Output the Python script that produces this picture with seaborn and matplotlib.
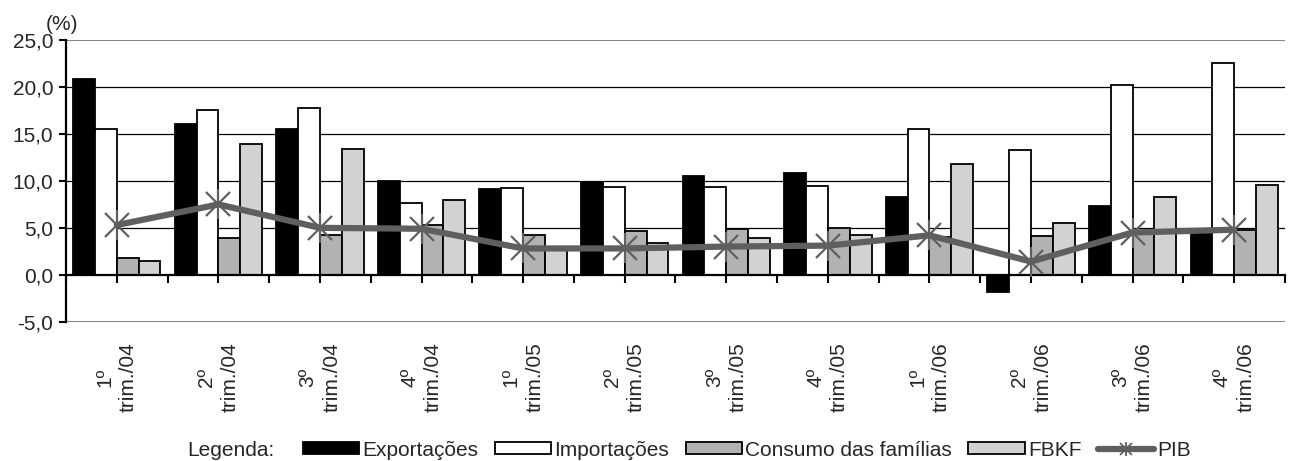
import matplotlib

matplotlib.use("Agg")
import matplotlib.pyplot as plt  # noqa: E402
import numpy as np  # noqa: E402
import pandas as pd  # noqa: E402
import seaborn as sns  # noqa: E402
from matplotlib.legend_handler import HandlerTuple  # noqa: E402
from matplotlib.lines import Line2D  # noqa: E402
from matplotlib.patches import Patch  # noqa: E402
from matplotlib.ticker import FixedLocator  # noqa: E402

# ---------------------------------------------------------------------------
# Data (variação %)
# ---------------------------------------------------------------------------
trimestres = [
    "1º\ntrim./04", "2º\ntrim./04", "3º\ntrim./04", "4º\ntrim./04",
    "1º\ntrim./05", "2º\ntrim./05", "3º\ntrim./05", "4º\ntrim./05",
    "1º\ntrim./06", "2º\ntrim./06", "3º\ntrim./06", "4º\ntrim./06",
]
exportacoes = [20.9, 16.1, 15.6, 10.0, 9.1, 9.9, 10.5, 10.9, 8.3, -1.8, 7.3, 4.9]
importacoes = [15.5, 17.6, 17.8, 7.6, 9.3, 9.35, 9.35, 9.45, 15.55, 13.3, 20.3, 22.6]
consumo = [1.8, 3.9, 4.2, 5.3, 4.2, 4.7, 4.9, 5.0, 4.0, 4.1, 4.4, 4.8]
fbkf = [1.5, 14.0, 13.4, 8.0, 2.8, 3.4, 3.9, 4.2, 11.8, 5.5, 8.3, 9.6]
pib = [5.3, 7.5, 5.0, 4.9, 2.8, 2.8, 3.0, 3.1, 4.2, 1.4, 4.5, 4.8]

series = ["Exportações", "Importações", "Consumo das famílias", "FBKF"]
cores = {
    "Exportações": "#000000",
    "Importações": "#ffffff",
    "Consumo das famílias": "#b2b2b2",
    "FBKF": "#d2d2d2",
}
COR_PIB = "#5f5f5f"

df = pd.DataFrame({
    "trimestre": trimestres,
    "Exportações": exportacoes,
    "Importações": importacoes,
    "Consumo das famílias": consumo,
    "FBKF": fbkf,
}).melt(id_vars="trimestre", var_name="serie", value_name="valor")

sns.set_theme(style="white")
plt.rcParams["font.family"] = ["Liberation Sans", "DejaVu Sans"]
FS = 15

fig = plt.figure(figsize=(12.89, 4.61), dpi=100)
ax = fig.add_axes([66 / 1289, 1 - 321.5 / 461, (1285 - 66) / 1289, (321.5 - 40.5) / 461])

sns.barplot(
    data=df, x="trimestre", y="valor", hue="serie",
    order=trimestres, hue_order=series, palette=cores,
    width=0.86, edgecolor="black", linewidth=1.3,
    legend=False, ax=ax, zorder=2,
)

# PIB line + star markers
x_pos = np.arange(len(trimestres))
sns.lineplot(x=x_pos, y=pib, color=COR_PIB, linewidth=4.5, ax=ax, zorder=4)
ax.plot(x_pos, pib, linestyle="none", marker="x", markersize=17,
        markeredgewidth=1.6, color=COR_PIB, zorder=5)
ax.plot(x_pos, pib, linestyle="none", marker="|", markersize=21,
        markeredgewidth=1.6, color=COR_PIB, zorder=5)

# y axis
ax.set_ylim(-5, 25)
ax.set_xlim(-0.5, len(trimestres) - 0.5)
yt = [-5, 0, 5, 10, 15, 20, 25]
ax.set_yticks(yt)
ax.set_yticklabels([f"{v:.1f}".replace(".", ",") for v in yt], fontsize=FS)
ax.tick_params(axis="y", direction="out", length=5, width=1.5, color="black",
               pad=4, left=True)
ax.grid(axis="y", color="black", linewidth=0.9, zorder=0)
ax.set_axisbelow(True)
for t, v in zip(ax.yaxis.get_major_ticks(), yt):
    if v in (-5, 25):
        t.gridline.set_color("#808080")
        t.gridline.set_linewidth(1.4)
    elif v == 0:
        t.gridline.set_visible(False)

for s in ("top", "right"):
    ax.spines[s].set_visible(False)
ax.spines["left"].set_color("black")
ax.spines["left"].set_linewidth(1.6)
ax.spines["bottom"].set_position(("data", 0))
ax.spines["bottom"].set_color("black")
ax.spines["bottom"].set_linewidth(1.6)
ax.spines["bottom"].set_zorder(3)

# x axis: ticks at every half group, labels far below
ax.xaxis.set_minor_locator(FixedLocator(np.arange(-0.5, len(trimestres), 1.0)))
ax.tick_params(axis="x", which="both", direction="out", length=6, width=1.5,
               color="black", bottom=True)
ax.tick_params(axis="x", which="major", pad=43)
ax.set_xticks(x_pos)
ax.set_xticklabels(trimestres, rotation=90, fontsize=FS, ha="center", va="top",
                   multialignment="center", linespacing=1.3)
ax.set_xlabel("")
ax.set_ylabel("")

fig.text(62 / 1289, 1 - 24 / 461, "(%)", fontsize=FS, ha="center", va="center")

# legend
handles = [Patch(facecolor=cores[s], edgecolor="black", linewidth=1.3) for s in series]
pib_handle = (
    Line2D([], [], color=COR_PIB, linewidth=4.5),
    Line2D([], [], color=COR_PIB, linestyle="none", marker="x",
           markersize=8, markeredgewidth=1.3),
    Line2D([], [], color=COR_PIB, linestyle="none", marker="|",
           markersize=10, markeredgewidth=1.3),
)
handles.append(pib_handle)
labels = series + ["PIB"]
fig.legend(
    handles, labels, loc="center", bbox_to_anchor=(747 / 1289, 1 - 450 / 461),
    ncol=5, frameon=False, fontsize=FS, handlelength=2.7, handleheight=0.55,
    handletextpad=0.15, columnspacing=0.8, borderpad=0, borderaxespad=0,
    handler_map={tuple: HandlerTuple(ndivide=1, pad=0)},
)
fig.text(187 / 1289, 1 - 450 / 461, "Legenda:", fontsize=FS, ha="left", va="center")

fig.savefig("out.png", dpi=100)
